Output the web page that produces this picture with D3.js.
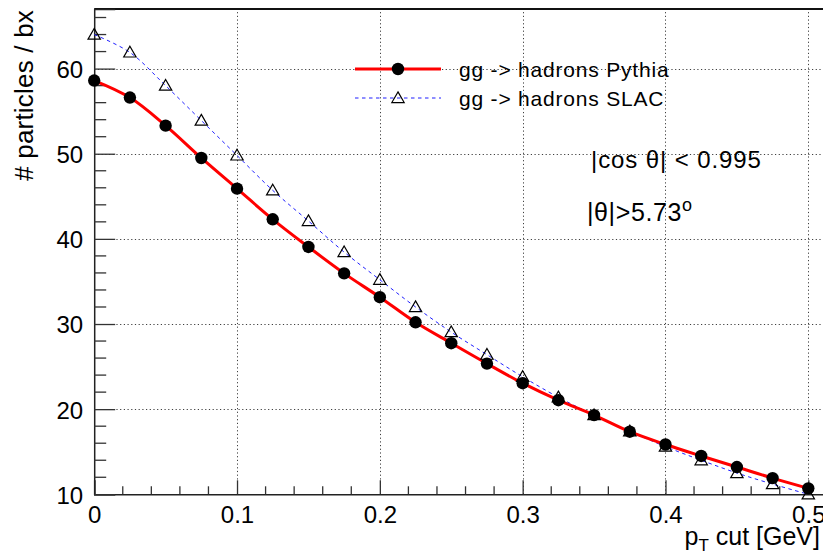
<!DOCTYPE html>
<html>
<head>
<meta charset="utf-8">
<script src="https://cdn.jsdelivr.net/npm/d3@7"></script>
<style>
  html, body { margin: 0; padding: 0; background: #fff; }
  svg { display: block; font-family: "Liberation Sans", Arial, Helvetica, sans-serif; }
</style>
</head>
<body>
<svg id="chart" width="823" height="554"></svg>
<script>
// pT cut values [GeV]
const pTcut = [0, 0.025, 0.05, 0.075, 0.1, 0.125, 0.15, 0.175, 0.2, 0.225, 0.25,
               0.275, 0.3, 0.325, 0.35, 0.375, 0.4, 0.425, 0.45, 0.475, 0.5];
// particles per bunch crossing, gg -> hadrons (Pythia)
const pythia = [58.6, 56.6, 53.3, 49.5, 45.9, 42.3, 39.05, 35.95, 33.15, 30.2, 27.75,
                25.35, 23.05, 21.05, 19.3, 17.35, 15.85, 14.5, 13.2, 11.9, 10.7];
// particles per bunch crossing, gg -> hadrons (SLAC)
const slac = [64.0, 61.9, 58.0, 53.9, 49.8, 45.7, 42.1, 38.45, 35.2, 32.0, 29.05,
              26.4, 23.8, 21.4, 19.3, 17.4, 15.6, 14.0, 12.5, 11.2, 10.0];

const xTicks = [0, 0.1, 0.2, 0.3, 0.4, 0.5];
const xTickLabels = ["0", "0.1", "0.2", "0.3", "0.4", "0.5"];
const yTicks = [10, 20, 30, 40, 50, 60];
const yTickLabels = ["10", "20", "30", "40", "50", "60"];

const seriesNames = ["gg -> hadrons Pythia", "gg -> hadrons SLAC"];
const xTitle = "cut [GeV]";
const yTitle = "# particles / bx";

const svg = d3.select("#chart");

// frame geometry
const frameLeft = 94.2, frameBottom = 494.3, frameTop = 9;
const x = d3.scaleLinear().domain([0, 0.52]).range([frameLeft, frameLeft + 0.52 * 1428.2]);
const y = d3.scaleLinear().domain([10, 67]).range([frameBottom, frameTop]);
const frameRight = x(0.52);

// dotted grid
const grid = svg.append("g")
  .attr("stroke", "#000").attr("stroke-width", 1)
  .attr("stroke-dasharray", "1.2,2.5").attr("opacity", 0.75);
grid.selectAll("line.gx").data(xTicks.filter(d => d > 0)).join("line")
  .attr("x1", d => Math.round(x(d)) + 0.5).attr("x2", d => Math.round(x(d)) + 0.5)
  .attr("y1", frameBottom).attr("y2", frameTop);
grid.selectAll("line.gy").data(yTicks.filter(d => d > 10)).join("line")
  .attr("y1", d => Math.round(y(d)) + 0.5).attr("y2", d => Math.round(y(d)) + 0.5)
  .attr("x1", frameLeft).attr("x2", frameRight);

// frame top edge
svg.append("line").attr("x1", frameLeft).attr("x2", frameRight)
  .attr("y1", frameTop).attr("y2", frameTop)
  .attr("stroke", "#111").attr("stroke-width", 2);

// axes
const xMinor = d3.range(0, 0.5201, 0.02).map(v => +v.toFixed(3));
const yMinor = d3.range(10, 67.01, 2);

const xAxis = d3.axisBottom(x).tickValues(xTicks).tickSize(-14)
  .tickFormat((d, i) => xTickLabels[i]).tickPadding(0);
const gx = svg.append("g").attr("transform", `translate(0,${frameBottom})`).call(xAxis);
gx.select(".domain").attr("stroke", "#222").attr("stroke-width", 1.5);
gx.selectAll(".tick line").attr("stroke", "#333").attr("stroke-width", 1.3);
gx.selectAll(".tick text").attr("y", 28.5).attr("dy", 0)
  .attr("font-size", 24).attr("fill", "#000");
gx.append("g").selectAll("line").data(xMinor.filter(v => !xTicks.some(t => Math.abs(t - v) < 1e-6)))
  .join("line").attr("x1", d => x(d)).attr("x2", d => x(d)).attr("y1", 0).attr("y2", -8)
  .attr("stroke", "#333").attr("stroke-width", 1.3);

const yAxis = d3.axisLeft(y).tickValues(yTicks).tickSize(-21)
  .tickFormat((d, i) => yTickLabels[i]).tickPadding(0);
const gy = svg.append("g").attr("transform", `translate(${frameLeft},0)`).call(yAxis);
gy.select(".domain").attr("stroke", "#222").attr("stroke-width", 1.5);
gy.selectAll(".tick line").attr("stroke", "#333").attr("stroke-width", 1.3);
gy.selectAll(".tick text").attr("x", -11).attr("dy", "0.37em")
  .attr("font-size", 24).attr("fill", "#000");
gy.append("g").selectAll("line").data(yMinor.filter(v => v % 10 !== 0))
  .join("line").attr("y1", d => y(d)).attr("y2", d => y(d)).attr("x1", 0).attr("x2", 12)
  .attr("stroke", "#333").attr("stroke-width", 1.3);
svg.selectAll(".domain").attr("fill", "none");

// axis titles
svg.append("text")
  .attr("transform", `translate(33,10) rotate(-90)`)
  .attr("text-anchor", "end").attr("font-size", 26).attr("letter-spacing", 0.2)
  .attr("fill", "#000")
  .text(yTitle);
const xt = svg.append("text").attr("x", 820).attr("y", 545)
  .attr("text-anchor", "end").attr("font-size", 25).attr("fill", "#000");
xt.append("tspan").text("p");
xt.append("tspan").attr("font-size", 17).attr("dy", 6).text("T");
xt.append("tspan").attr("dy", -6).text(" " + xTitle);

// curves
const curve = d3.line().curve(d3.curveCatmullRom.alpha(0.5))
  .x((d, i) => x(pTcut[i])).y(d => y(d));

svg.append("path").datum(slac).attr("d", curve)
  .attr("fill", "none").attr("stroke", "#1f1fff").attr("stroke-width", 1)
  .attr("stroke-dasharray", "3.5,3.5");
svg.append("path").datum(pythia).attr("d", curve)
  .attr("fill", "none").attr("stroke", "#ff0000").attr("stroke-width", 3);

// markers
const tri = d3.symbol().type(d3.symbolTriangle).size(66);
svg.append("g").selectAll("path").data(slac).join("path")
  .attr("d", tri)
  .attr("transform", (d, i) => `translate(${x(pTcut[i])},${y(d) + 1})`)
  .attr("fill", "none").attr("stroke", "#000").attr("stroke-width", 1.2);
svg.append("g").selectAll("circle").data(pythia).join("circle")
  .attr("cx", (d, i) => x(pTcut[i])).attr("cy", d => y(d)).attr("r", 6.2)
  .attr("fill", "#000");

// legend
const lg = svg.append("g");
lg.append("line").attr("x1", 355).attr("x2", 441).attr("y1", 69).attr("y2", 69)
  .attr("stroke", "#ff0000").attr("stroke-width", 3);
lg.append("circle").attr("cx", 398).attr("cy", 69).attr("r", 6.2).attr("fill", "#000");
lg.append("line").attr("x1", 355).attr("x2", 441).attr("y1", 98).attr("y2", 98)
  .attr("stroke", "#1f1fff").attr("stroke-width", 1).attr("stroke-dasharray", "3.5,3.5");
lg.append("path").attr("d", tri).attr("transform", "translate(398,99)")
  .attr("fill", "none").attr("stroke", "#000").attr("stroke-width", 1.2);
lg.selectAll("text").data(seriesNames).join("text")
  .attr("x", 459).attr("y", (d, i) => 77 + i * 28.5)
  .attr("font-size", 21).attr("letter-spacing", 0.8).attr("fill", "#000")
  .text(d => d);

// cut annotations
svg.append("text").attr("x", 591).attr("y", 168).attr("font-size", 24)
  .attr("letter-spacing", 0.9).attr("fill", "#000").text("|cos θ| < 0.995");
const ang = svg.append("text").attr("x", 587).attr("y", 221).attr("font-size", 25)
  .attr("letter-spacing", 0.6).attr("fill", "#000");
ang.append("tspan").text("|θ|>5.73");
ang.append("tspan").attr("font-size", 18).attr("dy", -10).text("o");
</script>
</body>
</html>
